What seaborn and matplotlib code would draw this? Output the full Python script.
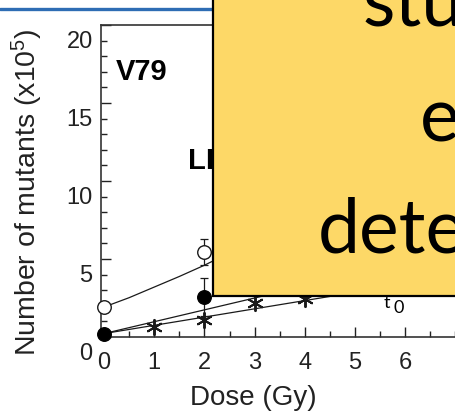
import matplotlib
matplotlib.use("Agg")
import matplotlib.pyplot as plt
import matplotlib.transforms as mtransforms
from matplotlib.patches import Rectangle
from matplotlib.lines import Line2D
from matplotlib.ticker import MultipleLocator
import seaborn as sns
import pandas as pd

sns.set_style("ticks")
plt.rcParams["font.family"] = ["Liberation Sans", "DejaVu Sans"]
plt.rcParams["mathtext.fontset"] = "custom"
plt.rcParams["mathtext.rm"] = "Liberation Sans"
plt.rcParams["mathtext.it"] = "Liberation Sans"

# ---- data ----
dose_open = [0, 2]
mut_open = [1.92, 5.45]
err_open = [0.0, 0.85]

dose_filled = [0, 2]
mut_filled = [0.22, 2.56]
err_filled = [0.0, 1.2]

dose_star = [1, 2, 3, 4]
mut_star = [0.64, 1.09, 2.18, 2.45]

fit_open_x = [0, 0.5, 1, 1.5, 2, 2.5]
fit_open_y = [1.92, 2.52, 3.2, 3.88, 4.6, 5.4]

fit_filled_x = [0, 3.5]
fit_filled_y = [0.22, 2.88]

fit_star_x = [0, 4.5]
fit_star_y = [0.22, 2.6]

x_ticks = [0, 1, 2, 3, 4, 5, 6]
y_ticks = [0, 5, 10, 15, 20]

W, H = 456, 416
fig = plt.figure(figsize=(W / 100, H / 100), dpi=100)
fig.patch.set_facecolor("white")

ax_left, ax_bottom, ax_top = 101, 337, 25
px_per_x = 50.2
x_min, x_max = -0.06, 8.0
ax = fig.add_axes([ax_left / W, (H - ax_bottom) / H,
                   (x_max - x_min) * px_per_x / W, (ax_bottom - ax_top) / H])
ax.set_xlim(x_min, x_max)
ax.set_ylim(0, 20)

ink = "#1a1a1a"
lw = 0.9

# fit lines
df_fo = pd.DataFrame({"x": fit_open_x, "y": fit_open_y})
df_ff = pd.DataFrame({"x": fit_filled_x, "y": fit_filled_y})
df_fs = pd.DataFrame({"x": fit_star_x, "y": fit_star_y})
for d in (df_fo, df_ff, df_fs):
    sns.lineplot(data=d, x="x", y="y", ax=ax, color=ink, lw=lw, sort=True,
                 estimator=None, zorder=2)

# error bars
ax.errorbar(dose_open, mut_open, yerr=err_open, fmt="none", ecolor=ink,
            elinewidth=lw, capsize=3, capthick=lw, zorder=3)
ax.errorbar(dose_filled, mut_filled, yerr=err_filled, fmt="none", ecolor=ink,
            elinewidth=lw, capsize=3, capthick=lw, zorder=3)

# markers
sns.scatterplot(x=dose_star, y=mut_star, ax=ax, marker=(6, 2, 0), s=120,
                color=ink, linewidth=1.4, zorder=4, clip_on=False)
sns.scatterplot(x=dose_open, y=mut_open, ax=ax, marker="o", s=95,
                facecolor="white", edgecolor=ink, linewidth=1.0, zorder=5,
                clip_on=False)
sns.scatterplot(x=dose_filled, y=mut_filled, ax=ax, marker="o", s=95,
                color="black", edgecolor="black", linewidth=1.0, zorder=6,
                clip_on=False)

# axes styling
for s in ax.spines.values():
    s.set_color("#333333")
    s.set_linewidth(1.2)
ax.set_xticks(x_ticks)
ax.set_yticks(y_ticks)
ax.xaxis.set_minor_locator(MultipleLocator(0.5))
ax.yaxis.set_minor_locator(MultipleLocator(1))
ax.tick_params(axis="both", which="both", direction="in", colors="#222222",
               labelcolor="#222222")
ax.tick_params(axis="x", which="major", length=7.5, width=1.0, pad=11,
               labelsize=17)
ax.tick_params(axis="x", which="minor", length=4, width=1.0)
ax.tick_params(axis="y", which="major", length=7, width=1.0, pad=6,
               labelsize=17)
ax.tick_params(axis="y", which="minor", length=4, width=1.0)
ax.tick_params(top=False, right=False, which="both")
ax.set_xlabel("")
ax.set_ylabel("")

off = mtransforms.ScaledTranslation(0, -15 / 100, fig.dpi_scale_trans)
for lbl in ax.get_yticklabels():
    lbl.set_transform(lbl.get_transform() + off)

fig.text(253 / W, 1 - 398 / H, "Dose (Gy)", ha="center", va="center",
         fontsize=20, color="#222222")
fig.text(27 / W, 1 - 192 / H, "Number of mutants (x10$^{5}$)", rotation=90,
         ha="center", va="center", fontsize=20.5, color="#222222")

ax.text(0.75, 17.0, "V79", fontsize=21, fontweight="bold", ha="center",
        va="center", color="black")
ax.text(1.68, 11.3, "LI", fontsize=21, fontweight="bold", ha="left",
        va="center", color="black")

# t0 annotation under the box
fig.text(384 / W, 1 - 308 / H, "t", fontsize=13, ha="left", va="baseline",
         family=["Lato", "DejaVu Sans"], color="black", zorder=1)
fig.text(394 / W, 1 - 313 / H, "0", fontsize=13, ha="left", va="baseline",
         family=["Lato", "DejaVu Sans"], color="black", zorder=1)

# slide decorations
fig.add_artist(Line2D([0, 213 / W], [1 - 8.5 / H, 1 - 8.5 / H],
                      transform=fig.transFigure, color="#2E6DB4", lw=2.4,
                      zorder=20))
fig.add_artist(Rectangle((213 / W, (H - 296) / H), 1.0, 1.0,
                         transform=fig.transFigure, facecolor="#FDD867",
                         edgecolor="black", lw=1.6, zorder=30))

box_font = ["Lato", "DejaVu Sans"]
fig.text(363 / W, 1 - 25 / H, "stu", fontsize=54, ha="left", va="baseline",
         family=box_font, color="black", zorder=31)
fig.text(420 / W, 1 - 142 / H, "e", fontsize=54, ha="left", va="baseline",
         family=box_font, color="black", zorder=31)
fig.text(318 / W, 1 - 253 / H, "dete", fontsize=54, ha="left", va="baseline",
         family=box_font, color="black", zorder=31)

fig.savefig("out.png", dpi=100)
